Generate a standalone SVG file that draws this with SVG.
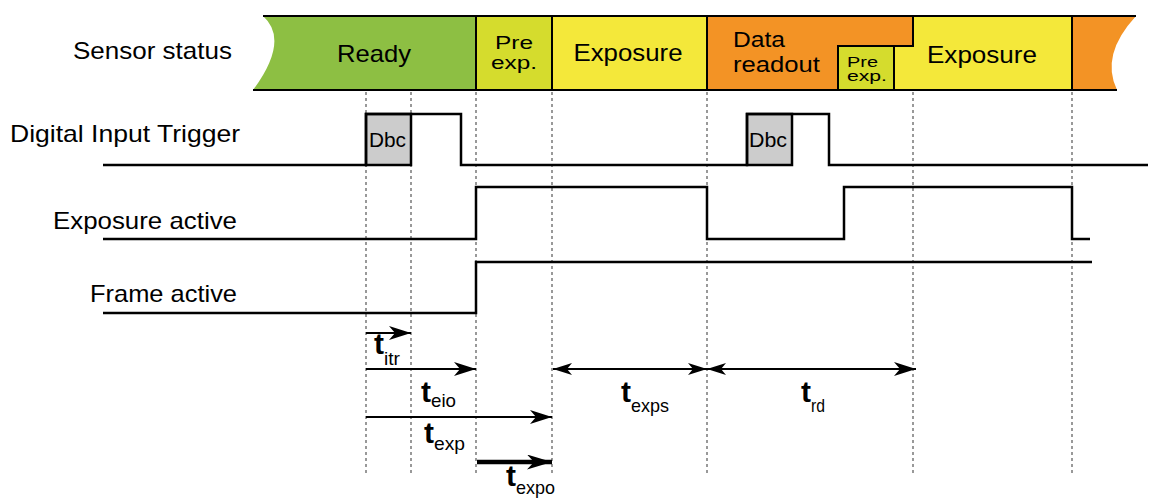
<svg xmlns="http://www.w3.org/2000/svg" width="1149" height="499" viewBox="0 0 1149 499">
<style>
text{font-family:"Liberation Sans",Arial,sans-serif;fill:#000}
.lbl{font-size:24px}
.bar{font-size:24px;text-anchor:middle}
.t{font-size:30px;font-weight:bold}
.sub{font-size:19px}
.sig{fill:none;stroke:#000;stroke-width:2.5;stroke-linejoin:miter}
.edge{fill:none;stroke:#000;stroke-width:2}
.grid{stroke:#999;stroke-width:2;stroke-dasharray:3 3}
.arr{stroke:#000;stroke-width:2;fill:none}
.arr.thick{stroke-width:4.5}
</style>
<defs>
<marker id="ah" markerUnits="userSpaceOnUse" markerWidth="24" markerHeight="14" refX="22" refY="7" orient="auto-start-reverse" viewBox="0 0 24 14">
<path d="M0,0 L22,7 L0,14 L6,7 Z" fill="#000"/>
</marker>
<marker id="ahs" markerUnits="userSpaceOnUse" markerWidth="20" markerHeight="14" refX="19" refY="6" orient="auto-start-reverse" viewBox="0 0 20 12">
<path d="M0,0 L19,6 L0,12 L5,6 Z" fill="#000"/>
</marker>
<marker id="ahb" markerUnits="userSpaceOnUse" markerWidth="26" markerHeight="15" refX="25" refY="7.5" orient="auto" viewBox="0 0 26 15">
<path d="M0,0 L25,7.5 L0,15 L7,7.5 Z" fill="#000"/>
</marker>
</defs>

<g id="labels">
<text class="lbl" x="73" y="59" textLength="159" lengthAdjust="spacingAndGlyphs">Sensor status</text>
<text class="lbl" x="10" y="142" textLength="230" lengthAdjust="spacingAndGlyphs">Digital Input Trigger</text>
<text class="lbl" x="53" y="229" textLength="184" lengthAdjust="spacingAndGlyphs">Exposure active</text>
<text class="lbl" x="90" y="302" textLength="147" lengthAdjust="spacingAndGlyphs">Frame active</text>
</g>

<g id="sensor-status">
<g id="state-ready">
<path d="M263,16 L476,16 L476,90 L253,90 Q290,40 263,16 Z" fill="#8DBF43"/>
<text class="bar" x="374" y="62" textLength="74" lengthAdjust="spacingAndGlyphs">Ready</text>
</g>
<g id="state-preexp1">
<rect x="476" y="16" width="76" height="74" fill="#D5DC2D"/>
<text x="514" y="49" font-size="19" text-anchor="middle" textLength="38" lengthAdjust="spacingAndGlyphs">Pre</text>
<text x="514" y="69" font-size="19" text-anchor="middle" textLength="46" lengthAdjust="spacingAndGlyphs">exp.</text>
</g>
<g id="state-exposure1">
<rect x="552" y="16" width="155" height="74" fill="#F4E83A"/>
<text class="bar" x="628" y="61" textLength="109" lengthAdjust="spacingAndGlyphs">Exposure</text>
</g>
<g id="state-readout">
<path d="M707,16 L913,16 L913,46 L838,46 L838,90 L707,90 Z" fill="#F39325"/>
<text x="733" y="47" font-size="22" textLength="52" lengthAdjust="spacingAndGlyphs">Data</text>
<text x="733" y="72" font-size="22" textLength="87" lengthAdjust="spacingAndGlyphs">readout</text>
</g>
<g id="state-preexp2">
<rect x="838" y="46" width="56" height="44" fill="#D5DC2D"/>
<text x="847" y="67" font-size="14" textLength="31" lengthAdjust="spacingAndGlyphs">Pre</text>
<text x="847" y="81" font-size="14" textLength="40" lengthAdjust="spacingAndGlyphs">exp.</text>
</g>
<g id="state-exposure2">
<path d="M913,16 L1072,16 L1072,90 L894,90 L894,46 L913,46 Z" fill="#F4E83A"/>
<text class="bar" x="982" y="63" textLength="110" lengthAdjust="spacingAndGlyphs">Exposure</text>
</g>
<g id="state-readout2">
<path d="M1072,16 L1136,16 Q1100,55 1117,90 L1072,90 Z" fill="#F39325"/>
</g>
<path class="edge" d="M263,16 H1136 M253,90 H1117 M476,16 V90 M552,16 V90 M707,16 V90 M1072,16 V90 M913,16 V46 H838 V90 M894,46 V90"/>
</g>

<g id="gridlines">
<line class="grid" x1="366" y1="92" x2="366" y2="476"/>
<line class="grid" x1="411" y1="92" x2="411" y2="476"/>
<line class="grid" x1="476" y1="92" x2="476" y2="476"/>
<line class="grid" x1="552" y1="92" x2="552" y2="476"/>
<line class="grid" x1="707" y1="92" x2="707" y2="476"/>
<line class="grid" x1="913" y1="92" x2="913" y2="476"/>
<line class="grid" x1="1072" y1="92" x2="1072" y2="476"/>
</g>

<g id="trigger">
<rect x="366" y="114" width="45" height="51" fill="#CCCCCC" stroke="#000" stroke-width="2.5"/>
<rect x="747" y="114" width="45" height="51" fill="#CCCCCC" stroke="#000" stroke-width="2.5"/>
<text x="369" y="147" font-size="20" textLength="37" lengthAdjust="spacingAndGlyphs">Dbc</text>
<text x="749" y="147" font-size="20" textLength="38" lengthAdjust="spacingAndGlyphs">Dbc</text>
<polyline class="sig" points="103,165 366,165 366,114 461,114 461,165 747,165 747,114 829,114 829,165 1148,165"/>
</g>

<g id="exposure-active">
<polyline class="sig" points="103,239 476,239 476,187 707,187 707,239 844,239 844,187 1072,187 1072,239 1090,239"/>
</g>

<g id="frame-active">
<polyline class="sig" points="103,313 476,313 476,262 1092,262"/>
</g>

<g id="connectors">
<line class="arr" x1="366" y1="333" x2="411" y2="333" marker-end="url(#ah)"/>
<line class="arr" x1="366" y1="369" x2="476" y2="369" marker-end="url(#ah)"/>
<line class="arr" x1="366" y1="417" x2="552" y2="417" marker-end="url(#ah)"/>
<line class="arr thick" x1="477" y1="462" x2="552" y2="462" marker-end="url(#ahb)"/>
<line class="arr" x1="553" y1="369" x2="707" y2="369" marker-start="url(#ahs)" marker-end="url(#ahs)"/>
<line class="arr" x1="707" y1="369" x2="916" y2="369" marker-start="url(#ahs)" marker-end="url(#ah)"/>
</g>

<g id="time-labels">
<text x="374" y="354"><tspan class="t">t</tspan><tspan class="sub" dy="11" textLength="16" lengthAdjust="spacingAndGlyphs">itr</tspan></text>
<text x="421" y="402"><tspan class="t">t</tspan><tspan class="sub" dy="5" textLength="25" lengthAdjust="spacingAndGlyphs">eio</tspan></text>
<text x="424" y="443"><tspan class="t">t</tspan><tspan class="sub" dy="7" textLength="31" lengthAdjust="spacingAndGlyphs">exp</tspan></text>
<text x="506" y="486"><tspan class="t">t</tspan><tspan class="sub" dy="8" textLength="39" lengthAdjust="spacingAndGlyphs">expo</tspan></text>
<text x="621" y="402"><tspan class="t">t</tspan><tspan class="sub" dy="10" textLength="38" lengthAdjust="spacingAndGlyphs">exps</tspan></text>
<text x="801" y="402"><tspan class="t">t</tspan><tspan class="sub" dy="10" textLength="14" lengthAdjust="spacingAndGlyphs">rd</tspan></text>
</g>
</svg>
